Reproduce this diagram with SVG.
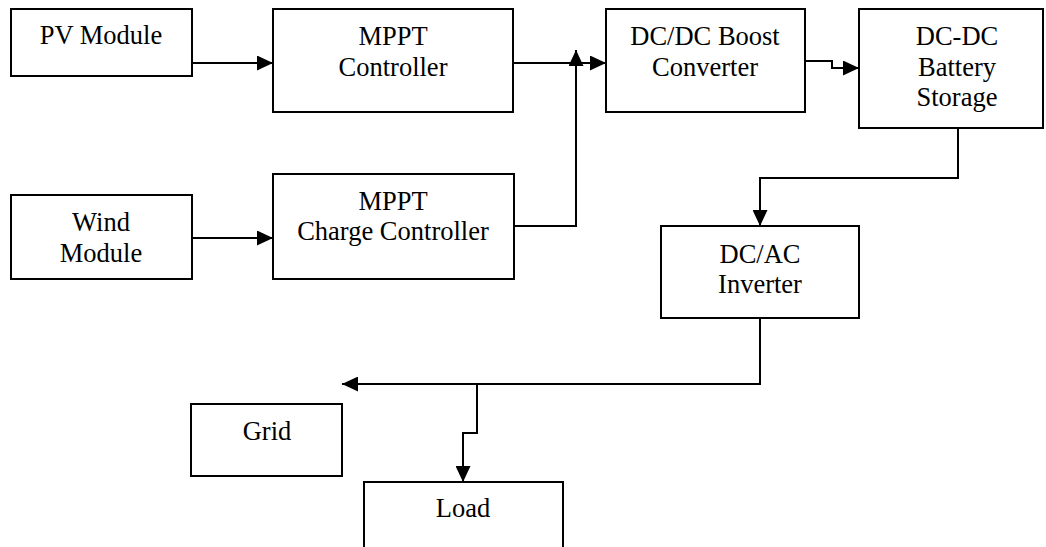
<svg xmlns="http://www.w3.org/2000/svg" width="1046" height="547" viewBox="0 0 1046 547">
  <style>
    .box { fill: #fff; stroke: #000; stroke-width: 2; }
    .lbl { font-family: "Liberation Serif", "Times New Roman", serif; font-size: 26.5px; fill: #000; text-anchor: middle; }
    .wire { fill: none; stroke: #000; stroke-width: 2; }
  </style>
  <defs>
    <marker id="arrow" markerUnits="userSpaceOnUse" markerWidth="16" markerHeight="15" refX="16" refY="7.5" orient="auto">
      <path d="M0,0 L16,7.5 L0,15 Z" fill="#000"/>
    </marker>
  </defs>
  <rect width="1046" height="547" fill="#fff"/>

  <!-- power flow connectors -->
  <g id="connectors">
    <path class="wire" d="M192,63 H273" marker-end="url(#arrow)"/>
    <path class="wire" d="M513,63 H606" marker-end="url(#arrow)"/>
    <path class="wire" d="M514,226 H576 V50" marker-end="url(#arrow)"/>
    <path class="wire" d="M805,61 H832 V68 H859" marker-end="url(#arrow)"/>
    <path class="wire" d="M958,128 V178 H760 V226" marker-end="url(#arrow)"/>
    <path class="wire" d="M192,238 H273" marker-end="url(#arrow)"/>
    <path class="wire" d="M760,318 V384 H342" marker-end="url(#arrow)"/>
    <path class="wire" d="M477,384 V433 H463 V482" marker-end="url(#arrow)"/>
  </g>

  <g id="pv-module">
    <rect class="box" x="11" y="9" width="181" height="67"/>
    <text class="lbl" x="101" y="44">PV Module</text>
  </g>
  <g id="mppt-controller">
    <rect class="box" x="273" y="9" width="240" height="103"/>
    <text class="lbl" x="393" y="45">MPPT</text>
    <text class="lbl" x="393" y="76">Controller</text>
  </g>
  <g id="boost-converter">
    <rect class="box" x="606" y="9" width="199" height="103"/>
    <text class="lbl" x="705" y="45">DC/DC Boost</text>
    <text class="lbl" x="705" y="76">Converter</text>
  </g>
  <g id="battery-storage">
    <rect class="box" x="859" y="9" width="184" height="119"/>
    <text class="lbl" x="957" y="45">DC-DC</text>
    <text class="lbl" x="957" y="76">Battery</text>
    <text class="lbl" x="957" y="106">Storage</text>
  </g>
  <g id="wind-module">
    <rect class="box" x="11" y="195" width="181" height="84"/>
    <text class="lbl" x="101" y="231">Wind</text>
    <text class="lbl" x="101" y="262">Module</text>
  </g>
  <g id="mppt-charge-controller">
    <rect class="box" x="273" y="174" width="241" height="105"/>
    <text class="lbl" x="393" y="210">MPPT</text>
    <text class="lbl" x="393" y="240">Charge Controller</text>
  </g>
  <g id="inverter">
    <rect class="box" x="661" y="226" width="198" height="92"/>
    <text class="lbl" x="760" y="263">DC/AC</text>
    <text class="lbl" x="760" y="293">Inverter</text>
  </g>
  <g id="grid">
    <rect class="box" x="191" y="404" width="151" height="72"/>
    <text class="lbl" x="267" y="440">Grid</text>
  </g>
  <g id="load">
    <rect class="box" x="364" y="482" width="199" height="80"/>
    <text class="lbl" x="463" y="517">Load</text>
  </g>
</svg>
